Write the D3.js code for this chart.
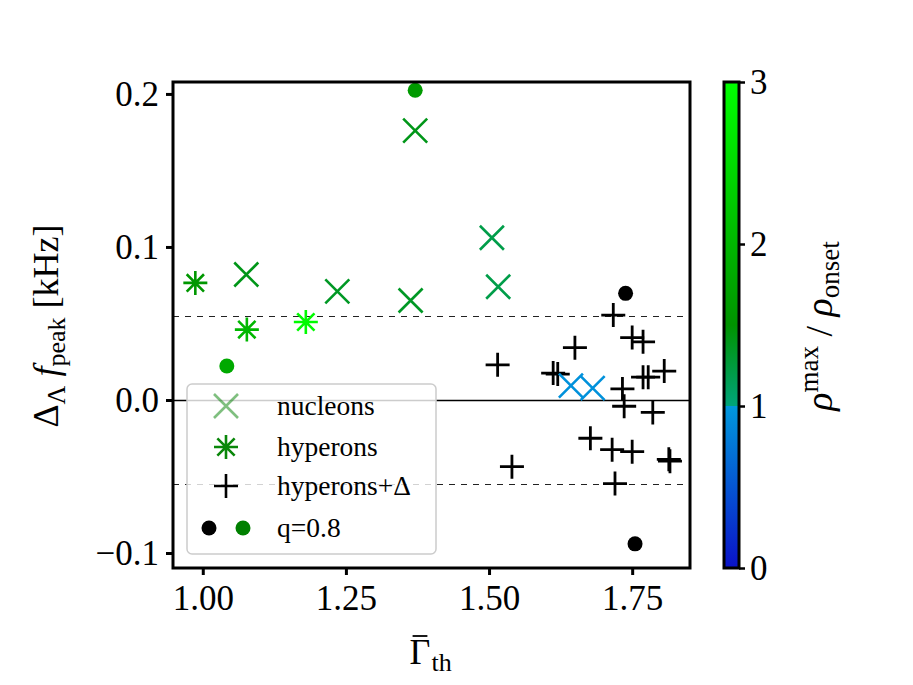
<!DOCTYPE html>
<html>
<head>
<meta charset="utf-8">
<script src="https://cdn.jsdelivr.net/npm/d3@7"></script>
<style>
  body { margin:0; background:#fff; }
  svg text { font-family:"Liberation Serif", "DejaVu Serif", serif; fill:#000; }
</style>
</head>
<body>
<svg id="chart" width="913" height="685"></svg>
<script>
// nucleons (x markers)
var nucGamma=[1.076,1.235,1.363,1.371,1.505,1.516,1.643,1.681]
var nucDelta=[0.082,0.071,0.065,0.176,0.106,0.074,0.0094,0.0077]
var nucRho=[1.4,1.35,1.35,1.4,1.2,1.2,0.95,0.95]
// hyperons (asterisks)
var hypGamma=[0.987,1.077,1.180]
var hypDelta=[0.0765,0.046,0.051]
var hypRho=[1.55,2.0,2.95]
// hyperons+Delta (black plus)
var hdGamma=[1.515,1.540,1.612,1.620,1.650,1.677,1.715,1.717,1.720,1.733,1.736,1.750,1.750,1.769,1.769,1.778,1.786,1.806,1.814,1.816]
var hdDelta=[0.023,-0.0436,0.0176,0.0169,0.0342,-0.025,-0.0325,0.0555,-0.0546,0.0072,-0.0041,0.0408,-0.0338,0.038,0.0149,0.0149,-0.0081,0.0189,-0.0388,-0.040]
// q=0.8 runs (dots), null rho = black
var qGamma=[1.7385,1.755,1.042,1.371]
var qDelta=[0.0697,-0.094,0.0222,0.2024]
var qRho=[null,null,1.8,1.6]

var xTicks=[1.00,1.25,1.50,1.75]
var yTicks=[0.2,0.1,0.0,-0.1]
var cTicks=[0,1,2,3]
var band=0.055

var svg=d3.select('#chart')
var frame={left:173,right:690,top:82,bottom:568}

var x=d3.scaleLinear().domain([0.948,1.851]).range([frame.left,frame.right])
var y=d3.scaleLinear().domain([-0.1098,0.2078]).range([frame.bottom,frame.top])

// colormap: blue below 1, greens above
var cmap=d3.scaleLinear()
    .domain([0,0.999,1,1.5,3])
    .range(['#0a12c8','#0098dc','#00a47a','#009300','#00ff00'])
    .clamp(true)

var g=svg.append('g')

// reference lines
g.append('line')
    .attr('x1',frame.left).attr('x2',frame.right)
    .attr('y1',Math.round(y(0))+0.5).attr('y2',Math.round(y(0))+0.5)
    .attr('stroke','#000').attr('stroke-width',1.4)
;[band,-band].forEach(v=>{
    g.append('line')
        .attr('x1',frame.left).attr('x2',frame.right)
        .attr('y1',Math.round(y(v))+0.5).attr('y2',Math.round(y(v))+0.5)
        .attr('stroke','#222').attr('stroke-width',1.2)
        .attr('stroke-dasharray','6,6')
})

var r=12
var crossPath=`M${-r},${-r}L${r},${r}M${-r},${r}L${r},${-r}`
var plusPath=`M${-r},0L${r},0M0,${-r}L0,${r}`
var d=r*0.72
var starPath=`M${-r},0L${r},0M0,${-r}L0,${r}M${-d},${-d}L${d},${d}M${-d},${d}L${d},${-d}`

var nuc=nucGamma.map((v,i)=>({x:v,y:nucDelta[i],rho:nucRho[i]}))
var hyp=hypGamma.map((v,i)=>({x:v,y:hypDelta[i],rho:hypRho[i]}))
var hd=hdGamma.map((v,i)=>({x:v,y:hdDelta[i]}))
var qq=qGamma.map((v,i)=>({x:v,y:qDelta[i],rho:qRho[i]}))

g.append('g').selectAll('path')
    .data(hd).join('path')
    .attr('d',plusPath)
    .attr('transform',p=>`translate(${x(p.x)},${y(p.y)})`)
    .attr('stroke','#000').attr('stroke-width',2.8).attr('fill','none')

g.append('g').selectAll('path')
    .data(nuc).join('path')
    .attr('d',crossPath)
    .attr('transform',p=>`translate(${x(p.x)},${y(p.y)})`)
    .attr('stroke',p=>cmap(p.rho)).attr('stroke-width',2.6).attr('fill','none')

g.append('g').selectAll('path')
    .data(hyp).join('path')
    .attr('d',starPath)
    .attr('transform',p=>`translate(${x(p.x)},${y(p.y)})`)
    .attr('stroke',p=>cmap(p.rho)).attr('stroke-width',2.6).attr('fill','none')

g.append('g').selectAll('circle')
    .data(qq).join('circle')
    .attr('cx',p=>x(p.x)).attr('cy',p=>y(p.y))
    .attr('r',7.5)
    .attr('fill',p=>p.rho==null?'#000':cmap(p.rho))

// axes
var xAxis=d3.axisBottom(x).tickValues(xTicks).tickFormat(d3.format('.2f')).tickSize(7).tickPadding(5)
var yAxis=d3.axisLeft(y).tickValues(yTicks).tickFormat(v=>v<0?'\u2212'+Math.abs(v).toFixed(1):v.toFixed(1)).tickSize(7).tickPadding(7)
var gx=svg.append('g').attr('transform',`translate(0,${frame.bottom})`).call(xAxis)
var gy=svg.append('g').attr('transform',`translate(${frame.left},0)`).call(yAxis)
;[gx,gy].forEach(a=>{
    a.select('.domain').remove()
    a.selectAll('line').attr('stroke','#000').attr('stroke-width',3)
    a.selectAll('text').attr('font-size',35).attr('font-family','Liberation Serif')
})
gx.selectAll('text').attr('dy','0.85em')
gy.selectAll('text').attr('dy','0.33em')

svg.append('rect')
    .attr('x',frame.left).attr('y',frame.top)
    .attr('width',frame.right-frame.left).attr('height',frame.bottom-frame.top)
    .attr('fill','none').attr('stroke','#000').attr('stroke-width',3)

// legend
var leg=svg.append('g')
leg.append('rect')
    .attr('x',187).attr('y',384).attr('width',249).attr('height',170).attr('rx',5)
    .attr('fill','#fff').attr('fill-opacity',0.8)
    .attr('stroke','#ccc').attr('stroke-width',1.5)
var items=[
    {label:'nucleons',path:crossPath,color:'#008000',op:0.5,cy:406},
    {label:'hyperons',path:starPath,color:'#0a870a',op:1,cy:447},
    {label:'hyperons+\u0394',path:plusPath,color:'#000',op:1,cy:486},
]
items.forEach(it=>{
    leg.append('path').attr('d',it.path)
        .attr('transform',`translate(226,${it.cy})`)
        .attr('stroke',it.color).attr('stroke-opacity',it.op)
        .attr('stroke-width',2.6).attr('fill','none')
    leg.append('text').attr('x',277).attr('y',it.cy+9).attr('font-size',27.5).text(it.label)
})
leg.append('circle').attr('cx',209).attr('cy',528).attr('r',7.5).attr('fill','#000')
leg.append('circle').attr('cx',243).attr('cy',528).attr('r',7.5).attr('fill','#008000')
leg.append('text').attr('x',277).attr('y',537).attr('font-size',27.5).text('q=0.8')

// axis labels
var xl=svg.append('g')
var gam=xl.append('text').attr('x',420).attr('y',664).attr('text-anchor','middle').attr('font-size',36).text('\u0393')
var gb=gam.node().getBBox()
xl.append('line').attr('x1',gb.x+3).attr('x2',gb.x+gb.width-3)
    .attr('y1',gb.y+4).attr('y2',gb.y+4).attr('stroke','#000').attr('stroke-width',1.8)
xl.append('text').attr('x',gb.x+gb.width+1).attr('y',671).attr('font-size',26).text('th')

var yl=svg.append('text').attr('transform','translate(58,326) rotate(-90)').attr('text-anchor','middle').attr('font-size',36)
yl.append('tspan').text('\u0394')
yl.append('tspan').attr('font-size',26).attr('dy',7).text('\u039b')
yl.append('tspan').attr('dy',-7).attr('font-style','italic').text(' f')
yl.append('tspan').attr('font-size',26).attr('dy',7).text('peak')
yl.append('tspan').attr('dy',-7).text(' [kHz]')

// colorbar
var cb={x:724,w:15}
var cy=d3.scaleLinear().domain([0,3]).range([frame.bottom,frame.top])
var defs=svg.append('defs')
var grad=defs.append('linearGradient').attr('id','cbar').attr('x1',0).attr('x2',0).attr('y1',1).attr('y2',0)
var stops=[0,0.999,1,1.5,3]
stops.forEach(s=>{
    grad.append('stop').attr('offset',(s/3*100)+'%').attr('stop-color',cmap(s))
})
svg.append('rect').attr('x',cb.x).attr('y',frame.top).attr('width',cb.w).attr('height',frame.bottom-frame.top)
    .attr('fill','url(#cbar)').attr('stroke','#000').attr('stroke-width',3)
var cAxis=d3.axisRight(cy).tickValues(cTicks).tickFormat(d3.format('d')).tickSize(6).tickPadding(5)
var gc=svg.append('g').attr('transform',`translate(${cb.x+cb.w},0)`).call(cAxis)
gc.select('.domain').remove()
gc.selectAll('line').attr('stroke','#000').attr('stroke-width',2.5)
gc.selectAll('text').attr('font-size',35).attr('font-family','Liberation Serif').attr('dy','0.33em')

var cl=svg.append('text').attr('transform','translate(832,326) rotate(-90)').attr('text-anchor','middle').attr('font-size',38)
cl.append('tspan').attr('font-style','italic').text('\u03c1')
cl.append('tspan').attr('font-size',27).attr('dy',-14).text('max')
cl.append('tspan').attr('dy',14).text(' / ')
cl.append('tspan').attr('font-style','italic').text('\u03c1')
cl.append('tspan').attr('font-size',27).attr('dy',7).text('onset')
</script>
</body>
</html>
